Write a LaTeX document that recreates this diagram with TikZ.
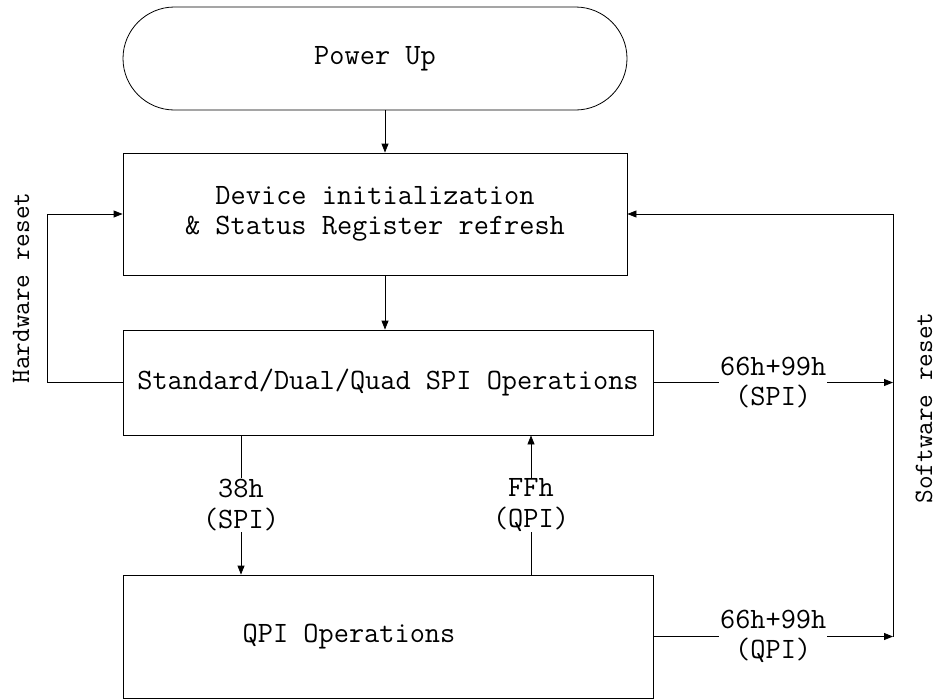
\documentclass[tikz,border=0pt]{standalone}
\usetikzlibrary{arrows.meta,shapes.misc}
\begin{document}
\begin{tikzpicture}[x=1pt,y=-1pt,
  every node/.style={font=\ttfamily\fontsize{29.5}{30.5}\selectfont},
  box/.style={draw,line width=0.8pt,inner sep=0pt},
  arr/.style={-{Triangle[length=9pt,width=7pt]},line width=0.8pt},
  lbl/.style={fill=white,inner sep=1pt,align=center},
  side/.style={rotate=90,font=\ttfamily\fontsize{26.5}{28}\selectfont}]
\useasboundingbox (0,0) rectangle (937,699);
\node[box,rounded rectangle,minimum width=504pt,minimum height=103pt] (pu) at (375,58.5) {Power Up};
\node[box,minimum width=504pt,minimum height=122pt,align=center] (b2) at (375,214) {Device initialization\\\& Status Register refresh};
\node[box,minimum width=530pt,minimum height=105pt] (b3) at (388,382.5) {Standard/Dual/Quad SPI Operations};
\node[box,minimum width=530pt,minimum height=123pt] (b4) at (388,636.5) {};
\node (b4t) at (349,637) {QPI Operations};
\coordinate (ax) at (385,0);
\coordinate (hw1) at (47,382.5);
\coordinate (hw2) at (47,214);
\coordinate (sr0) at (893,214);
\coordinate (sr1) at (893,382.5);
\coordinate (sr2) at (893,636.5);
\draw[arr] (pu.south -| ax) -- (b2.north -| ax);
\draw[arr] (b2.south -| ax) -- (b3.north -| ax);
\draw[arr] (b3.west) -- (hw1) -- (hw2) -- (b2.west);
\draw[arr] (sr2) -- (sr0) -- (b2.east);
\draw[arr] (b3.east) -- node[lbl]{66h+99h\\(SPI)} (sr1);
\draw[arr] (b4.east) -- node[lbl]{66h+99h\\(QPI)} (sr2);
\draw[arr] ([xshift=-147pt]b3.south) -- node[lbl]{38h\\(SPI)} ([xshift=-147pt]b4.north);
\draw[arr] ([xshift=143pt]b4.north) -- node[lbl]{FFh\\(QPI)} ([xshift=143pt]b3.south);
\node[side] (hwl) at (21,288) {Hardware reset};
\node[side] (swl) at (924,408) {Software reset};
\end{tikzpicture}
\end{document}
